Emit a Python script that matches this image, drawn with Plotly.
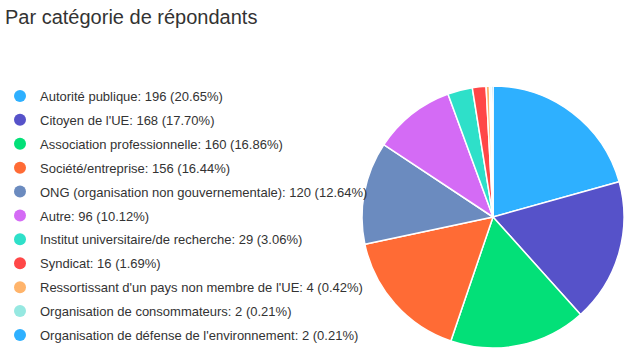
import plotly.graph_objects as go

categories = [
    "Autorité publique",
    "Citoyen de l'UE",
    "Association professionnelle",
    "Société/entreprise",
    "ONG (organisation non gouvernementale)",
    "Autre",
    "Institut universitaire/de recherche",
    "Syndicat",
    "Ressortissant d'un pays non membre de l'UE",
    "Organisation de consommateurs",
    "Organisation de défense de l'environnement",
]
counts = [196, 168, 160, 156, 120, 96, 29, 16, 4, 2, 2]
colors = ["#2EB0FF", "#5652C9", "#03E078", "#FF6B35", "#6B8BBF", "#D46BF5",
          "#2EE0C9", "#FF4747", "#FFB46B", "#96E8E1", "#2EB0FF"]

total = sum(counts)
labels = [f"{c}: {v} ({v / total * 100:.2f}%)" for c, v in zip(categories, counts)]

W, H = 634, 357
fig = go.Figure()
fig.add_trace(go.Pie(
    labels=labels, values=counts, sort=False, direction="clockwise", rotation=0,
    marker=dict(colors=colors, line=dict(color="white", width=1.5)),
    textinfo="none", showlegend=False,
    domain=dict(x=[362 / W, 624 / W], y=[1 - 349 / H, 1 - 85 / H]),
))
for i, (lab, col) in enumerate(zip(labels, colors)):
    fig.add_trace(go.Scatter(
        x=[None], y=[None], mode="markers", name=lab, legendgroup=f"g{i}",
        marker=dict(symbol="circle", size=12, color=col),
    ))

fig.update_layout(
    width=W, height=H,
    margin=dict(l=0, r=0, t=0, b=0),
    paper_bgcolor="white", plot_bgcolor="white",
    font=dict(family="Arial, Liberation Sans, sans-serif", size=13, color="#333333"),
    xaxis=dict(visible=False), yaxis=dict(visible=False),
    legend=dict(x=0, y=1 - 81 / H, xanchor="left", yanchor="top",
                traceorder="grouped", tracegroupgap=4, itemsizing="constant",
                font=dict(size=13, color="#333333"), bgcolor="rgba(0,0,0,0)"),
)
fig.add_annotation(text="Par catégorie de répondants", xref="paper", yref="paper",
                   x=0, y=1 - 17 / H, xanchor="left", yanchor="middle", showarrow=False,
                   xshift=3, font=dict(size=20, color="#333333"))
fig.write_html("out.html", config={"displayModeBar": False},
               post_script="document.body.style.margin='0';")
